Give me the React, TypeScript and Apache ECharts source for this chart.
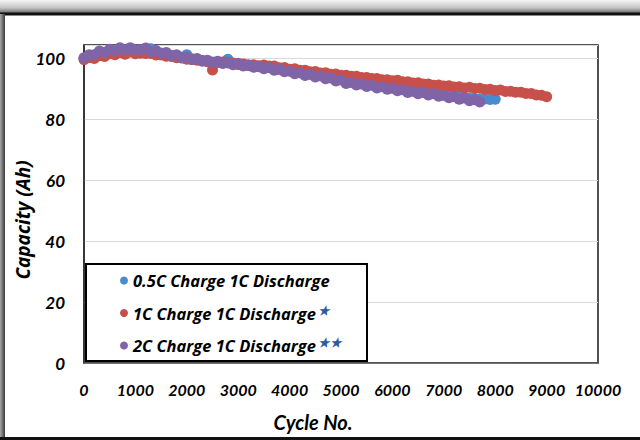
import React, { useEffect, useRef } from "react";
import * as echarts from "echarts";

// ---------- data ----------
const cycles = [
  0, 100, 200, 300, 400, 500, 600, 700, 800, 900,
  1000, 1100, 1200, 1300, 1400, 1500, 1600, 1700, 1800, 1900,
  2000, 2100, 2200, 2300, 2400, 2500, 2600, 2700, 2800, 2900,
  3000, 3100, 3200, 3300, 3400, 3500, 3600, 3700, 3800, 3900,
  4000, 4100, 4200, 4300, 4400, 4500, 4600, 4700, 4800, 4900,
  5000, 5100, 5200, 5300, 5400, 5500, 5600, 5700, 5800, 5900,
  6000, 6100, 6200, 6300, 6400, 6500, 6600, 6700, 6800, 6900,
  7000, 7100, 7200, 7300, 7400, 7500, 7600, 7700, 7800, 7900,
  8000, 8100, 8200, 8300, 8400, 8500, 8600, 8700, 8800, 8900,
  9000,
];

const seriesNames = [
  "0.5C Charge 1C Discharge",
  "1C Charge 1C Discharge",
  "2C Charge 1C Discharge",
];
const seriesStars = ["", "★", "★★"];
const seriesColors = ["#4a8bd0", "#c8504b", "#8064a8"];

const capacity05C = [
  100.0, 100.6, 101.2, 101.8, 102.0, 102.5, 102.5, 102.9, 102.7, 103.0,
  102.8, 102.6, 103.0, 103.2, 102.2, 101.8, 101.5, 101.0, 100.8, 100.4,
  101.2, 99.9, 99.7, 99.3, 99.1, 98.8, 98.8, 98.5, 99.7, 98.2,
  98.1, 97.8, 97.7, 97.4, 97.3, 96.9, 96.9, 96.5, 96.4, 96.0,
  95.9, 95.5, 95.3, 94.9, 94.8, 94.4, 94.3, 93.8, 93.7, 93.2,
  93.1, 92.5, 92.4, 92.0, 91.9, 91.5, 91.4, 91.0, 90.9, 90.5,
  90.4, 90.0, 89.9, 89.5, 89.4, 89.0, 89.0, 88.6, 88.5, 88.1,
  88.0, 87.7, 87.6, 87.3, 87.2, 86.9, 86.8, 86.6, 86.7, 86.5,
  86.6,
];

const capacity1C = [
  99.6, 100.2, 100.0, 100.9, 100.6, 101.5, 101.2, 101.9, 101.4, 102.1,
  101.5, 101.7, 101.6, 101.6, 101.1, 101.1, 100.7, 100.6, 100.2, 100.1,
  99.7, 99.7, 99.4, 99.3, 98.9, 96.2, 98.7, 98.8, 98.5, 98.5,
  98.0, 98.2, 97.7, 97.9, 97.6, 97.8, 97.5, 97.5, 96.9, 97.0,
  96.4, 96.6, 96.1, 96.1, 95.6, 95.7, 95.2, 95.3, 94.8, 94.9,
  94.5, 94.5, 94.1, 94.1, 93.7, 93.7, 93.4, 93.4, 93.0, 93.0,
  92.7, 92.8, 92.3, 92.3, 91.9, 92.0, 91.6, 91.6, 91.2, 91.3,
  90.9, 91.0, 90.6, 90.7, 90.3, 90.5, 90.1, 90.2, 89.8, 89.9,
  89.5, 89.6, 89.1, 89.2, 88.9, 88.9, 88.5, 88.5, 88.0, 87.9,
  87.4,
];

const capacity2C = [
  100.2, 101.2, 101.1, 102.4, 101.9, 103.0, 102.4, 103.5, 102.7, 103.5,
  102.7, 102.9, 103.4, 102.2, 102.6, 101.6, 101.9, 100.9, 101.2, 100.2,
  100.5, 99.6, 100.0, 99.1, 99.4, 98.6, 99.1, 98.3, 98.7, 97.9,
  98.4, 97.5, 97.9, 97.1, 97.4, 96.6, 97.0, 96.1, 96.4, 95.6,
  95.9, 95.0, 95.3, 94.4, 94.8, 93.9, 94.3, 93.3, 93.6, 92.6,
  92.9, 91.8, 92.1, 91.3, 91.6, 90.8, 91.2, 90.3, 90.7, 89.9,
  90.2, 89.4, 89.7, 88.8, 89.2, 88.4, 88.8, 88.0, 88.4, 87.6,
  87.9, 87.1, 87.4, 86.6, 87.0, 86.1, 86.4, 85.7,
];

const seriesValues = [capacity05C, capacity1C, capacity2C];

const yTickLabels = [0, 20, 40, 60, 80, 100];
const xTickLabels = [0, 1000, 2000, 3000, 4000, 5000, 6000, 7000, 8000, 9000, 10000];

const FONT = "Lato, 'Open Sans', sans-serif";
const FONT2 = "'Open Sans', Lato, sans-serif";

export default function App() {
  const ref = useRef<HTMLDivElement>(null);

  useEffect(() => {
    if (!ref.current) return;
    const chart = echarts.init(ref.current, undefined, { renderer: "svg" });

    const series = seriesNames.map((name, i) => ({
      name,
      type: "scatter",
      symbol: "circle",
      symbolSize: 11,
      itemStyle: { color: seriesColors[i], opacity: 1 },
      z: 2 + i,
      data: seriesValues[i].map((v, k) => [cycles[k], v]),
    }));

    const labelStyle = {
      color: "#000",
      fontFamily: FONT,
      fontWeight: "bold" as const,
      fontStyle: "italic" as const,
    };

    chart.setOption({
      animation: false,
      backgroundColor: "#fff",
      grid: {
        left: 84,
        top: 45,
        right: 42,
        bottom: 77,
        show: true,
        borderColor: "#1a1a1a",
        borderWidth: 1.5,
        backgroundColor: "transparent",
      },
      xAxis: {
        type: "value",
        min: 0,
        max: 10000,
        interval: 1000,
        axisLine: { show: true, lineStyle: { color: "#505050", width: 1.5 } },
        axisTick: { show: false },
        splitLine: { show: false },
        axisLabel: {
          ...labelStyle,
          fontSize: 16,
          margin: 18,
          formatter: (v: number) => (xTickLabels.includes(v) ? String(v) : ""),
        },
      },
      yAxis: {
        type: "value",
        min: 0,
        max: 104.4,
        interval: 20,
        axisLine: { show: true, lineStyle: { color: "#303030", width: 1.5 } },
        axisTick: { show: false },
        splitLine: { show: true, lineStyle: { color: "#d9d9d9", width: 1 } },
        axisLabel: {
          ...labelStyle,
          fontSize: 17,
          margin: 19,
          showMaxLabel: false,
          formatter: (v: number) => (yTickLabels.includes(v) ? String(v) : ""),
        },
      },
      legend: {
        orient: "vertical",
        left: 120,
        top: 272,
        padding: 0,
        itemGap: 14,
        itemWidth: 8,
        itemHeight: 8,
        icon: "circle",
        selectedMode: false,
        z: 10,
        data: seriesNames,
        formatter: (name: string) => {
          const i = seriesNames.indexOf(name);
          return seriesStars[i] ? `{t|${name}}{s|${seriesStars[i]}}` : `{t|${name}}`;
        },
        textStyle: {
          ...labelStyle,
          fontFamily: FONT2,
          fontSize: 16.5,
          rich: {
            t: { ...labelStyle, fontFamily: FONT2, fontSize: 16.5, lineHeight: 20 },
            s: {
              fontFamily: "'Noto Sans CJK SC', 'DejaVu Sans', sans-serif",
              fontSize: 12,
              color: "#2f5a9e",
              lineHeight: 14,
              verticalAlign: "top",
              padding: [0, 0, 0, 2],
            },
          },
        },
      },
      graphic: [
        // outer frame shadow and border
        {
          type: "rect",
          shape: { x: 0, y: 0, width: 640, height: 13 },
          style: {
            fill: new echarts.graphic.LinearGradient(0, 0, 0, 1, [
              { offset: 0, color: "#f6f6f6" },
              { offset: 0.6, color: "#c4c4c4" },
              { offset: 1, color: "#6a6a6a" },
            ]),
          },
          silent: true,
        },
        {
          type: "rect",
          shape: { x: 0, y: 12.5, width: 640, height: 3 },
          style: { fill: "#111" },
          silent: true,
        },
        {
          type: "rect",
          shape: { x: 0, y: 14, width: 5, height: 426 },
          style: {
            fill: new echarts.graphic.LinearGradient(0, 0, 1, 0, [
              { offset: 0, color: "#a8a8a8" },
              { offset: 1, color: "#3a3a3a" },
            ]),
          },
          silent: true,
        },
        {
          type: "rect",
          shape: { x: 0, y: 437, width: 640, height: 3 },
          style: { fill: "#111" },
          silent: true,
        },
        // legend box
        {
          type: "rect",
          z: 6,
          shape: { x: 86, y: 264, width: 281, height: 97 },
          style: { fill: "#fff", stroke: "#000", lineWidth: 2 },
          silent: true,
        },
        // axis titles
        {
          type: "text",
          x: 23,
          y: 220,
          rotation: Math.PI / 2,
          style: {
            text: "Capacity (Ah)",
            fill: "#000",
            font: `italic bold 19px ${FONT2}`,
            textAlign: "center",
            textVerticalAlign: "middle",
          },
          silent: true,
        },
        {
          type: "text",
          x: 313,
          y: 422,
          style: {
            text: "Cycle No.",
            fill: "#000",
            font: `italic bold 20px ${FONT}`,
            textAlign: "center",
            textVerticalAlign: "middle",
          },
          silent: true,
        },
      ],
      series,
    });

    return () => chart.dispose();
  }, []);

  return (
    <div
      ref={ref}
      style={{ position: "fixed", left: 0, top: 0, width: 640, height: 440 }}
    />
  );
}
